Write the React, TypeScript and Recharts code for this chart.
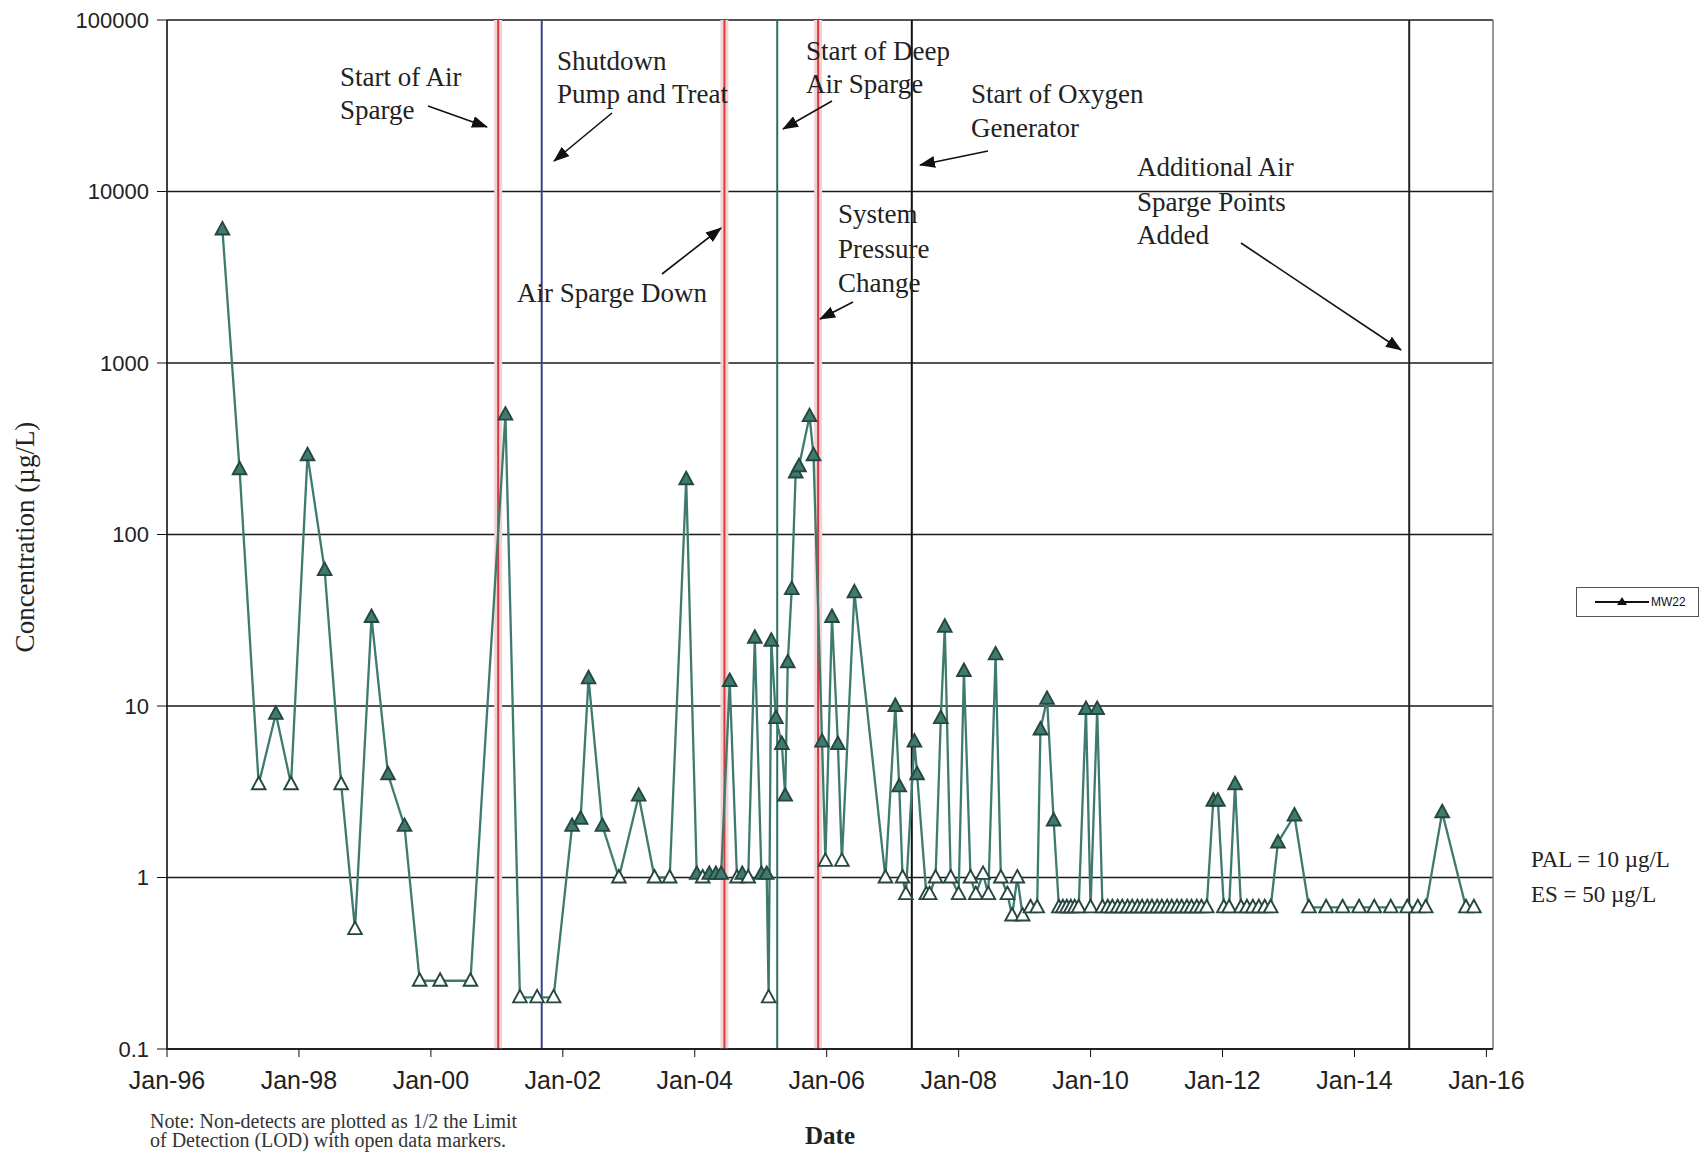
import React from "react";
import { LineChart, Line, XAxis, YAxis, CartesianGrid, ReferenceLine } from "recharts";

// ---- data (decimal year of sampling, MW22 concentration in ug/L, 1 = non-detect) ----
const sampleDates = [
  1996.84, 1997.10, 1997.39, 1997.65, 1997.88, 1998.13, 1998.39, 1998.64, 1998.85, 1999.10,
  1999.35, 1999.60, 1999.83, 2000.14, 2000.60, 2001.13, 2001.35, 2001.61, 2001.86, 2002.14,
  2002.27, 2002.39, 2002.60, 2002.85, 2003.15, 2003.39, 2003.62, 2003.87, 2004.03, 2004.12,
  2004.22, 2004.32, 2004.40, 2004.53, 2004.64, 2004.72, 2004.81, 2004.91, 2005.01, 2005.09,
  2005.12, 2005.16, 2005.23, 2005.32, 2005.37, 2005.41, 2005.47, 2005.53, 2005.58, 2005.74,
  2005.80, 2005.93, 2005.98, 2006.08, 2006.17, 2006.23, 2006.42, 2006.89, 2007.04, 2007.10,
  2007.15, 2007.20, 2007.33, 2007.37, 2007.51, 2007.56, 2007.65, 2007.73, 2007.79, 2007.88,
  2008.00, 2008.08, 2008.18, 2008.26, 2008.37, 2008.45, 2008.56, 2008.64, 2008.74, 2008.81,
  2008.89, 2008.97, 2009.09, 2009.19, 2009.24, 2009.34, 2009.44, 2009.52, 2009.58, 2009.64,
  2009.70, 2009.76, 2009.82, 2009.93, 2010.00, 2010.10, 2010.18, 2010.26, 2010.33, 2010.41,
  2010.48, 2010.56, 2010.63, 2010.71, 2010.78, 2010.86, 2010.93, 2011.01, 2011.08, 2011.16,
  2011.23, 2011.31, 2011.38, 2011.46, 2011.53, 2011.61, 2011.68, 2011.76, 2011.86, 2011.93,
  2012.02, 2012.10, 2012.19, 2012.28, 2012.37, 2012.46, 2012.55, 2012.64, 2012.73, 2012.84,
  2013.09, 2013.31, 2013.57, 2013.82, 2014.07, 2014.30, 2014.55, 2014.80, 2014.96, 2015.08,
  2015.33, 2015.69, 2015.81,
];

const mw22Values = [
  6000, 240, 3.5, 9, 3.5, 290, 62, 3.5, 0.5, 33,
  4.0, 2.0, 0.25, 0.25, 0.25, 500, 0.2, 0.2, 0.2, 2.0,
  2.2, 14.5, 2.0, 1.0, 3.0, 1.0, 1.0, 210, 1.05, 1.0,
  1.05, 1.05, 1.05, 14, 1.0, 1.05, 1.0, 25, 1.05, 1.05,
  0.2, 24, 8.5, 6.0, 3.0, 18, 48, 230, 250, 490,
  290, 6.2, 1.25, 33, 6.0, 1.25, 46, 1.0, 10, 3.4,
  1.0, 0.8, 6.2, 4.0, 0.8, 0.8, 1.0, 8.5, 29, 1.0,
  0.8, 16, 1.0, 0.8, 1.05, 0.8, 20, 1.0, 0.8, 0.6,
  1.0, 0.6, 0.67, 0.67, 7.3, 11, 2.15, 0.67, 0.67, 0.67,
  0.67, 0.67, 0.67, 9.6, 0.67, 9.6, 0.67, 0.67, 0.67, 0.67,
  0.67, 0.67, 0.67, 0.67, 0.67, 0.67, 0.67, 0.67, 0.67, 0.67,
  0.67, 0.67, 0.67, 0.67, 0.67, 0.67, 0.67, 0.67, 2.8, 2.8,
  0.67, 0.67, 3.5, 0.67, 0.67, 0.67, 0.67, 0.67, 0.67, 1.6,
  2.3, 0.67, 0.67, 0.67, 0.67, 0.67, 0.67, 0.67, 0.67, 0.67,
  2.4, 0.67, 0.67,
];

const nonDetectFlags = [
  0, 0, 1, 0, 1, 0, 0, 1, 1, 0,
  0, 0, 1, 1, 1, 0, 1, 1, 1, 0,
  0, 0, 0, 1, 0, 1, 1, 0, 0, 1,
  0, 0, 0, 0, 1, 0, 1, 0, 0, 0,
  1, 0, 0, 0, 0, 0, 0, 0, 0, 0,
  0, 0, 1, 0, 0, 1, 0, 1, 0, 0,
  1, 1, 0, 0, 1, 1, 1, 0, 0, 1,
  1, 0, 1, 1, 1, 1, 0, 1, 1, 1,
  1, 1, 1, 1, 0, 0, 0, 1, 1, 1,
  1, 1, 1, 0, 1, 0, 1, 1, 1, 1,
  1, 1, 1, 1, 1, 1, 1, 1, 1, 1,
  1, 1, 1, 1, 1, 1, 1, 1, 0, 0,
  1, 1, 0, 1, 1, 1, 1, 1, 1, 0,
  0, 1, 1, 1, 1, 1, 1, 1, 1, 1,
  0, 1, 1,
];

const xTickYears = [1996, 1998, 2000, 2002, 2004, 2006, 2008, 2010, 2012, 2014, 2016];
const xTickLabels = ["Jan-96", "Jan-98", "Jan-00", "Jan-02", "Jan-04", "Jan-06", "Jan-08", "Jan-10", "Jan-12", "Jan-14", "Jan-16"];
const yTicks = [0.1, 1, 10, 100, 1000, 10000, 100000];

// event marker lines (decimal year)
const eventDates = [2001.02, 2001.68, 2004.45, 2005.25, 2005.87, 2007.29, 2014.83];
const seriesName = "MW22";

const data = sampleDates.map((t, i) => ({ t, v: mw22Values[i], nd: nonDetectFlags[i] === 1 }));

const eventColors = ["#d63a40", "#3b3f86", "#d63a40", "#2f6e5f", "#d63a40", "#111111", "#222222"];
const SERIES = "#3e7b6e";
const SERIF = "'Liberation Serif', 'Times New Roman', serif";
const SANS = "'Liberation Sans', Arial, sans-serif";

const TriangleDot = (props: any) => {
  const { cx, cy, payload, index } = props;
  if (cx == null || cy == null || !isFinite(cx) || !isFinite(cy)) return <g key={`d${index}`} />;
  const w = 6.8;
  const top = cy - 7.5;
  const bot = cy + 5;
  const d = `M${cx},${top} L${cx + w},${bot} L${cx - w},${bot} Z`;
  return (
    <path
      key={`d${index}`}
      d={d}
      fill={payload.nd ? "#ffffff" : SERIES}
      stroke="#25473f"
      strokeWidth={1.9}
      strokeLinejoin="miter"
    />
  );
};

const Arrow = ({ x1, y1, x2, y2 }: { x1: number; y1: number; x2: number; y2: number }) => (
  <line x1={x1} y1={y1} x2={x2} y2={y2} stroke="#111" strokeWidth={1.6} markerEnd="url(#arrowHead)" />
);

const T = ({ x, y, children, size = 27 }: any) => (
  <text x={x} y={y} fontFamily={SERIF} fontSize={size} fill="#222">
    {children}
  </text>
);

export default function App() {
  return (
    <div style={{ position: "absolute", left: 0, top: 0, width: 1707, height: 1153, background: "#fff", overflow: "hidden" }}>
      <LineChart
        width={1707}
        height={1153}
        data={data}
        margin={{ top: 20, right: 214, bottom: 44, left: 67 }}
      >
        <CartesianGrid vertical={false} stroke="#1a1a1a" strokeWidth={1.6} />
        <XAxis
          type="number"
          dataKey="t"
          domain={[1996, 2016.1]}
          ticks={xTickYears}
          interval={0}
          allowDataOverflow
          tickFormatter={(v: number) => xTickLabels[xTickYears.indexOf(v)] ?? ""}
          height={60}
          tickSize={8}
          tickMargin={14}
          stroke="#111"
          axisLine={{ stroke: "#111", strokeWidth: 1.6 }}
          tick={{ fontFamily: SANS, fontSize: 25, fill: "#222" }}
        />
        <YAxis
          scale="log"
          domain={[0.1, 100000]}
          ticks={yTicks}
          interval={0}
          allowDataOverflow
          width={100}
          tickSize={10}
          tickMargin={8}
          tickFormatter={(v: number) => String(v)}
          axisLine={{ stroke: "#111", strokeWidth: 1.6 }}
          stroke="#111"
          tick={{ fontFamily: SANS, fontSize: 22, fill: "#222" }}
        />
        {eventDates.map((d, i) =>
          eventColors[i] === "#d63a40" ? (
            <ReferenceLine key={`h${i}`} x={d} stroke="#f4d3d5" strokeWidth={8} />
          ) : null
        )}
        {eventDates.map((d, i) => (
          <ReferenceLine key={`e${i}`} x={d} stroke={eventColors[i]} strokeWidth={2} />
        ))}
        <ReferenceLine x={2016.1} stroke="#777" strokeWidth={1.5} />
        <Line
          type="linear"
          dataKey="v"
          name={seriesName}
          stroke={SERIES}
          strokeWidth={2.3}
          dot={TriangleDot}
          activeDot={false}
          isAnimationActive={false}
        />
      </LineChart>

      {/* legend */}
      <div
        style={{
          position: "absolute",
          left: 1576,
          top: 587,
          width: 123,
          height: 30,
          border: "1px solid #555",
          boxSizing: "border-box",
          background: "#fff",
          display: "flex",
          alignItems: "center",
        }}
      >
        <svg width={74} height={28}>
          <line x1={18} y1={14} x2={72} y2={14} stroke="#111" strokeWidth={2} />
          <path d="M45,9 L50,17 L40,17 Z" fill="#111" />
        </svg>
        <span style={{ fontFamily: SANS, fontSize: 12, color: "#111" }}>{seriesName}</span>
      </div>

      <svg
        width={1707}
        height={1153}
        style={{ position: "absolute", left: 0, top: 0, pointerEvents: "none" }}
      >
        <defs>
          <marker id="arrowHead" markerUnits="userSpaceOnUse" markerWidth={16} markerHeight={12} refX={15} refY={6} orient="auto">
            <path d="M0,0 L16,6 L0,12 Z" fill="#111" />
          </marker>
        </defs>

        <T x={340} y={86}>Start of Air</T>
        <T x={340} y={119}>Sparge</T>
        <Arrow x1={428} y1={106} x2={487} y2={127} />

        <T x={557} y={70}>Shutdown</T>
        <T x={557} y={103}>Pump and Treat</T>
        <Arrow x1={612} y1={113} x2={554} y2={161} />

        <T x={806} y={60}>Start of Deep</T>
        <T x={806} y={93}>Air Sparge</T>
        <Arrow x1={832} y1={101} x2={783} y2={129} />

        <T x={971} y={103}>Start of Oxygen</T>
        <T x={971} y={137}>Generator</T>
        <Arrow x1={988} y1={151} x2={920} y2={165} />

        <T x={1137} y={176}>Additional Air</T>
        <T x={1137} y={211}>Sparge Points</T>
        <T x={1137} y={244}>Added</T>
        <Arrow x1={1241} y1={243} x2={1401} y2={350} />

        <T x={838} y={223}>System</T>
        <T x={838} y={258}>Pressure</T>
        <T x={838} y={292}>Change</T>
        <Arrow x1={853} y1={302} x2={820} y2={319} />

        <T x={517} y={302}>Air Sparge Down</T>
        <Arrow x1={662} y1={274} x2={721} y2={228} />

        <T x={1531} y={867} size={23}>PAL = 10 µg/L</T>
        <T x={1531} y={902} size={23}>ES = 50 µg/L</T>

        <text
          x={0}
          y={0}
          transform="translate(34,537) rotate(-90)"
          textAnchor="middle"
          fontFamily={SERIF}
          fontSize={27}
          fill="#222"
        >
          Concentration (µg/L)
        </text>

        <text x={830} y={1144} textAnchor="middle" fontFamily={SERIF} fontWeight="bold" fontSize={25} fill="#222">
          Date
        </text>

        <text x={150} y={1128} fontFamily={SERIF} fontSize={20} fill="#333">
          Note:  Non-detects are plotted as 1/2 the Limit
        </text>
        <text x={150} y={1147} fontFamily={SERIF} fontSize={20} fill="#333">
          of Detection (LOD) with open data markers.
        </text>
      </svg>
    </div>
  );
}
